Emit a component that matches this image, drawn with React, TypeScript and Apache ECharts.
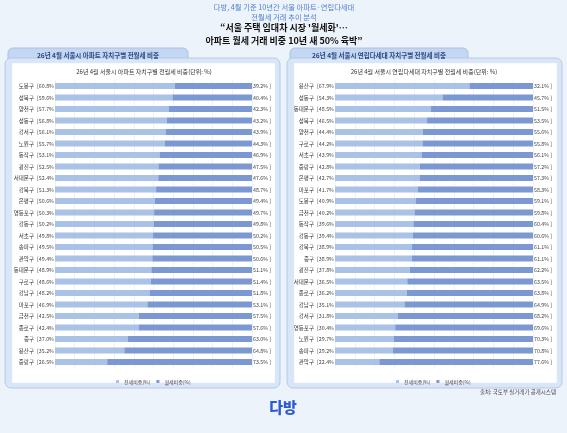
import React, { useEffect, useRef } from "react";
import * as echarts from "echarts";

const aptDistricts = ["도봉구","성북구","양천구","성동구","강서구","노원구","동작구","광진구","서대문구","강북구","은평구","영등포구","강동구","서초구","송파구","관악구","동대문구","구로구","강남구","마포구","금천구","종로구","중구","용산구","중랑구"];
const aptJeonse = [60.8,59.6,57.7,56.8,56.1,55.7,53.1,52.5,52.4,51.3,50.6,50.3,50.2,49.8,49.5,49.4,48.9,48.6,48.2,46.9,42.5,42.4,37.0,35.2,26.5];
const aptWolse = [39.2,40.4,42.3,43.2,43.9,44.3,46.9,47.5,47.6,48.7,49.4,49.7,49.8,50.2,50.5,50.6,51.1,51.4,51.8,53.1,57.5,57.6,63.0,64.8,73.5];

const villaDistricts = ["용산구","성동구","동대문구","성북구","양천구","구로구","서초구","중랑구","은평구","마포구","도봉구","금천구","동작구","강동구","강북구","중구","광진구","서대문구","종로구","강남구","강서구","영등포구","노원구","송파구","관악구"];
const villaJeonse = [67.9,54.3,48.5,46.5,44.4,44.2,43.9,42.8,42.7,41.7,40.9,40.2,39.6,39.4,38.9,38.9,37.8,36.5,36.2,35.1,31.8,30.4,29.7,29.2,22.4];
const villaWolse = [32.1,45.7,51.5,53.5,55.6,55.8,56.1,57.2,57.3,58.3,59.1,59.8,60.4,60.6,61.1,61.1,62.2,63.5,63.8,64.9,68.2,69.6,70.3,70.8,77.6];

const seriesNames = ["전세비중(%)", "월세비중(%)"];

const FONT = "'Noto Sans CJK KR', 'Noto Sans', sans-serif";
const C_JEONSE = "#a9c2e6";
const C_WOLSE = "#7b98d2";

export default function App() {
  const ref = useRef<HTMLDivElement>(null);
  useEffect(() => {
    if (!ref.current) return;
    const chart = echarts.init(ref.current, undefined, { renderer: "svg" });

    const grids = [
      { left: 55, top: 80.25, width: 197, height: 287.5 },
      { left: 335, top: 80.25, width: 198, height: 287.5 },
    ];
    const cats = [aptDistricts, villaDistricts];
    const jeonse = [aptJeonse, villaJeonse];
    const wolse = [aptWolse, villaWolse];

    const panel = (x: number, tabW: number, tabText: string, chartTitle: string, titleX: number) => [
      { type: "rect", shape: { x: x + 3, y: 48, width: tabW, height: 14, r: [5, 5, 0, 0] }, style: { fill: "#c4d7f2", stroke: "#a9c2e8", lineWidth: 1 }, z: -9 },
      { type: "text", x: x + 3 + tabW / 2, y: 55, style: { text: tabText, fontSize: 6.5, fontWeight: "bold", fill: "#2c4a82", align: "center", verticalAlign: "middle", fontFamily: FONT }, z: 5 },
      { type: "rect", shape: { x: x, y: 58, width: 275, height: 330, r: 6 }, style: { fill: "#d9e6f8", stroke: "#b4c9ea", lineWidth: 1 }, z: -8 },
      { type: "rect", shape: { x: x + 7, y: 63, width: 263, height: 320 }, style: { fill: "#ffffff", stroke: "#e3ebf6", lineWidth: 0.5 }, z: -7 },
      { type: "text", x: titleX, y: 71, style: { text: chartTitle, fontSize: 6, fill: "#333", align: "center", verticalAlign: "middle", fontFamily: FONT }, z: 5 },
    ];

    const legendCommon = () => ({
      orient: "horizontal", icon: "rect", itemWidth: 3, itemHeight: 3, itemGap: 6,
      textStyle: { fontSize: 5, color: "#444", fontFamily: FONT },
      selectedMode: false,
    });

    const option: any = {
      animation: false,
      textStyle: { fontFamily: FONT },
      graphic: [
        { type: "rect", shape: { x: 0, y: 0, width: 567, height: 433 }, style: { fill: "#edf3fb" }, z: -10 },
        { type: "text", x: 284, y: 7, style: { text: "다방, 4월 기준 10년간 서울 아파트·연립다세대", fontSize: 7.3, fill: "#4f7fd0", align: "center", verticalAlign: "middle", fontFamily: FONT }, z: 5 },
        { type: "text", x: 284, y: 16.5, style: { text: "전월세 거래 추이 분석", fontSize: 7.3, fill: "#4f7fd0", align: "center", verticalAlign: "middle", fontFamily: FONT }, z: 5 },
        { type: "text", x: 284, y: 27.5, style: { text: "“서울 주택 임대차 시장 '월세화'…", fontSize: 9, fontWeight: "bold", fill: "#111", align: "center", verticalAlign: "middle", fontFamily: FONT }, z: 5 },
        { type: "text", x: 284, y: 40, style: { text: "아파트 월세 거래 비중 10년 새 50% 육박”", fontSize: 9, fontWeight: "bold", fill: "#111", align: "center", verticalAlign: "middle", fontFamily: FONT }, z: 5 },
        ...panel(5, 180, "26년 4월 서울시 아파트 자치구별 전월세 비중", "26년 4월 서울시 아파트 자치구별 전월세 비중(단위: %)", 144),
        ...panel(287, 178, "26년 4월 서울시 연립다세대 자치구별 전월세 비중", "26년 4월 서울시 연립다세대 자치구별 전월세 비중(단위: %)", 424),
        { type: "text", x: 556, y: 392, style: { text: "출처: 국토부 실거래가 공개시스템", fontSize: 5.5, fill: "#444", align: "right", verticalAlign: "middle", fontFamily: FONT }, z: 5 },
        { type: "text", x: 283, y: 406, style: { text: "다방", fontSize: 15, fontWeight: "900", fill: "#2d5bd0", align: "center", verticalAlign: "middle", fontFamily: FONT }, z: 5 },
      ],
      legend: [
        { ...legendCommon(), data: seriesNames, left: 111, top: 374 },
        { ...legendCommon(), data: seriesNames, left: 391, top: 374 },
      ],
      grid: grids.map((g) => ({ ...g, containLabel: false })),
      xAxis: grids.map((_, i) => ({
        type: "value", gridIndex: i, min: 0, max: 100, interval: 10,
        axisLabel: { show: false }, axisLine: { show: false }, axisTick: { show: false },
        splitLine: { show: true, lineStyle: { color: "#e2e9f3", width: 0.6 } },
      })),
      yAxis: grids.map((_, i) => ({
        type: "category", gridIndex: i, inverse: true, data: cats[i],
        axisLine: { show: false }, axisTick: { show: false },
        axisLabel: { fontSize: 5.5, color: "#333", margin: 21, fontFamily: FONT, interval: 0 },
        z: 5,
      })),
      series: [0, 1].flatMap((i) => [
        {
          name: seriesNames[0], type: "bar", stack: "s" + i, xAxisIndex: i, yAxisIndex: i,
          data: jeonse[i], barWidth: 6, itemStyle: { color: C_JEONSE },
          label: { show: true, position: "left", distance: 1, fontSize: 5.3, color: "#444", fontFamily: FONT, formatter: (p: any) => "[" + Number(p.value).toFixed(1) + "%" },
        },
        {
          name: seriesNames[1], type: "bar", stack: "s" + i, xAxisIndex: i, yAxisIndex: i,
          data: wolse[i], barWidth: 6, itemStyle: { color: C_WOLSE },
          label: { show: true, position: "right", distance: 1, fontSize: 5.3, color: "#444", fontFamily: FONT, formatter: (p: any) => Number(p.value).toFixed(1) + "% ]" },
        },
      ]),
    };

    chart.setOption(option);
    return () => chart.dispose();
  }, []);

  return (
    <div style={{ position: "fixed", left: 0, top: 0, width: 567, height: 433 }}>
      <div ref={ref} style={{ width: 567, height: 433 }} />
    </div>
  );
}
